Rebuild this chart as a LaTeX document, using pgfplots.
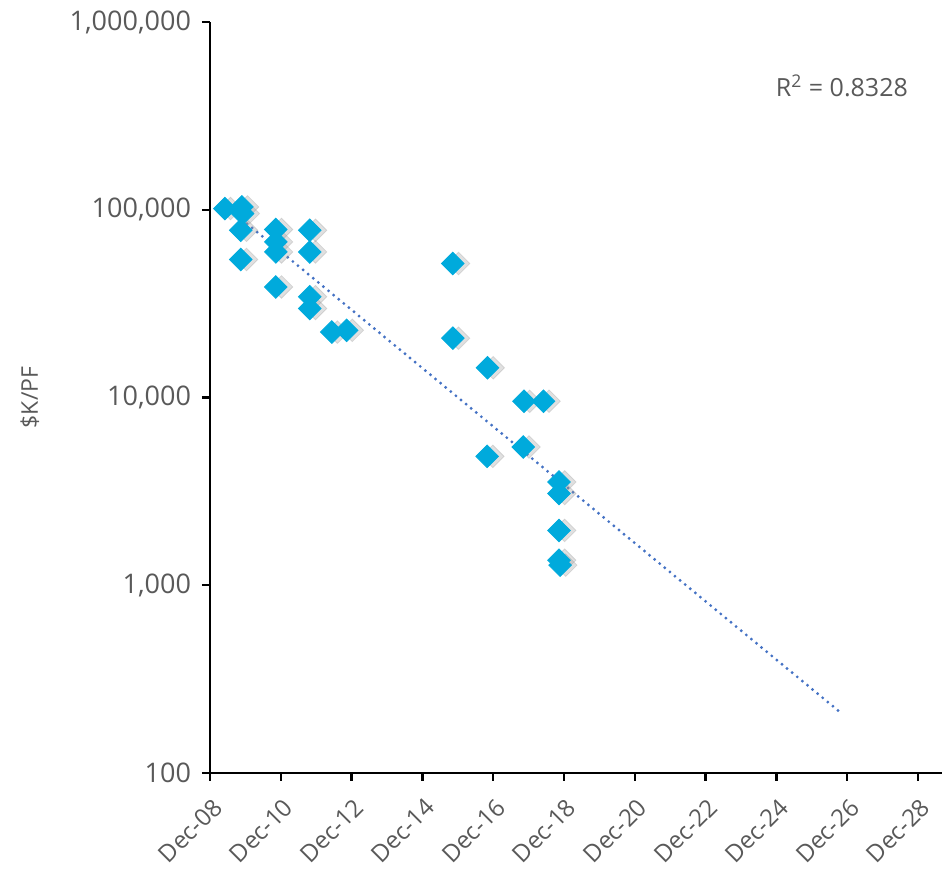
\documentclass[border=0pt]{standalone}
\usepackage{fontspec}
\setmainfont{Open Sans}
\usepackage{pgfplots}
\pgfplotsset{compat=1.18}
\definecolor{mk}{HTML}{00AADC}
\definecolor{tl}{HTML}{4472C4}
\definecolor{tx}{HTML}{595959}
\pgfplotstableread{
x y
0.42 101500
0.90 103500
0.92 95400
0.87 77800
0.87 54300
1.86 78500
1.86 67400
1.86 59600
2.82 77800
2.82 59600
1.86 38800
2.82 34400
2.82 29800
3.44 22300
3.86 22800
6.86 51700
6.86 20700
7.84 14400
8.87 9550
9.42 9550
7.83 4860
8.85 5450
9.86 3550
9.86 3080
9.86 1960
9.86 1360
9.89 1280
}\pts
\begin{document}
\begin{tikzpicture}
\useasboundingbox (-105pt,-48pt) rectangle (366pt,386.5pt);
\begin{axis}[
  scale only axis, width=366pt, height=375.5pt,
  at={(0,0)}, anchor=south west,
  ymode=log, log basis y=10,
  ymin=100, ymax=1000000,
  xmin=0, xmax=20.68,
  axis x line*=bottom, axis y line*=left,
  axis line style={line width=1.2pt,-},
  tick style={line width=1.2pt,black},
  tick align=outside, major tick length=4pt,
  minor tick num=0,
  ytick={100,1000,10000,100000,1000000},
  yticklabels={100,{1,000},{10,000},{100,000},{1,000,000}},
  xtick={0,2,4,6,8,10,12,14,16,18,20},
  xticklabels={Dec-08,Dec-10,Dec-12,Dec-14,Dec-16,Dec-18,Dec-20,Dec-22,Dec-24,Dec-26,Dec-28},
  xticklabel style={rotate=45, anchor=north east, font=\fontsize{12}{14}\selectfont, text=tx, inner sep=1pt, xshift=-4pt, yshift=-5pt},
  yticklabel style={font=\fontsize{13.5}{15}\selectfont, text=tx, xshift=-2pt},
  /pgf/number format/assume math mode=true,
  ylabel={\$K/PF},
  ylabel style={font=\fontsize{11.5}{13}\selectfont, text=tx, at={(axis description cs:-0.246,0.5)}, anchor=center},
  clip=false,
]
% shadow
\addplot[only marks, mark=square*, mark size=4pt, color=black!40, opacity=0.3,
  mark options={rotate=45, xshift=2pt, yshift=-2pt}] table {\pts};
% trendline
\addplot[tl, line width=1.6pt, line cap=round, dash pattern=on 0pt off 3.3pt]
  coordinates {(0.47,103500) (17.8,211)};
% data
\addplot[only marks, mark=square*, mark size=4pt, color=mk,
  mark options={rotate=45}] table {\pts};
\node[anchor=east, text=tx, font=\fontsize{12.5}{14}\selectfont] at (rel axis cs:0.963,0.915) {R\textsuperscript{2} = 0.8328};
\end{axis}
\end{tikzpicture}
\end{document}
